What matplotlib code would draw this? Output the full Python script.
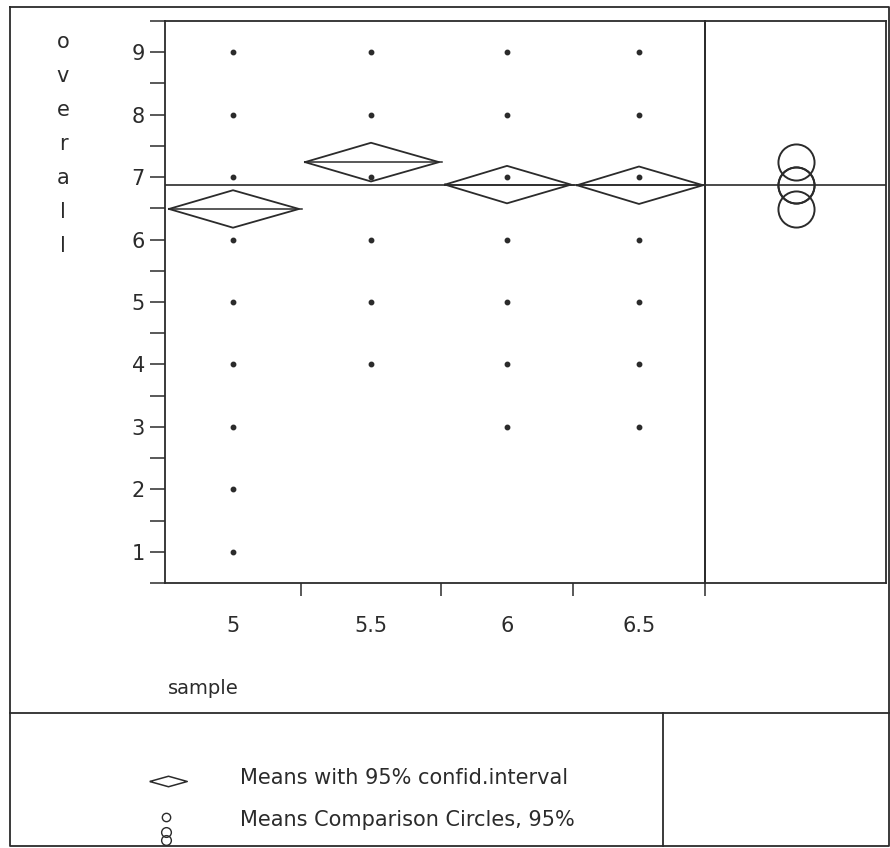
import matplotlib
matplotlib.use('Agg')

import matplotlib.pyplot as plt
import numpy as np

# data
groups = ["5", "5.5", "6", "6.5"]
group_w = [136, 140, 132, 132]          # relative group widths (sample sizes)
pts_5 = [1, 2, 3, 4, 5, 6, 7, 8, 9]
pts_55 = [4, 5, 6, 7, 8, 9]
pts_6 = [3, 4, 5, 6, 7, 8, 9]
pts_65 = [3, 4, 5, 6, 7, 8, 9]
means = [6.49, 7.24, 6.88, 6.87]
ci_half = [0.30, 0.31, 0.30, 0.30]
grand_mean = 6.87
y_label = "overall"
x_label = "sample"
legend_items = ["Means with 95% confid.interval", "Means Comparison Circles, 95%"]

ink = '#2b2b2b'
W, H = 890, 848
fig = plt.figure(figsize=(W / 100, H / 100), dpi=100)

def box(l, t, r, b):
    return [l / W, 1 - b / H, (r - l) / W, (b - t) / H]

# overlay in pixel units for the frame lines of the report
frame = fig.add_axes([0, 0, 1, 1], zorder=-1)
frame.set_xlim(0, W)
frame.set_ylim(H, 0)
frame.axis('off')
lw = 1.3
frame.plot([10, 889, 889, 10, 10], [7, 7, 846, 846, 7], color=ink, lw=lw)
frame.plot([10, 889], [713, 713], color=ink, lw=lw)
frame.plot([663, 663], [713, 846], color=ink, lw=lw)

# main panel
ax = fig.add_axes(box(165, 21, 705, 583))
ax.set_facecolor('none')
edges = np.concatenate([[0], np.cumsum(group_w)])
centers = (edges[:-1] + edges[1:]) / 2
ax.set_xlim(0, edges[-1])
ax.set_ylim(0.5, 9.5)

all_pts = [pts_5, pts_55, pts_6, pts_65]
for i, p in enumerate(all_pts):
    ax.plot([centers[i]] * len(p), p, 'o', color=ink, markersize=3.2, zorder=2)

ax.axhline(grand_mean, color=ink, lw=1.2, zorder=3)
for i in range(len(groups)):
    x0 = edges[i] + 4
    x1 = edges[i + 1] - 2
    xc = centers[i]
    m = means[i]
    h = ci_half[i]
    ax.plot([x0, xc, x1, xc, x0], [m, m + h, m, m - h, m], color=ink, lw=1.3, zorder=4)
    ax.plot([x0, x1 + 3], [m, m], color=ink, lw=1.1, zorder=4)

for s in ax.spines.values():
    s.set_linewidth(lw)
    s.set_color(ink)

ax.set_yticks(range(1, 10))
ax.set_yticks(np.arange(0.5, 10, 1.0), minor=True)
ax.tick_params(axis='y', which='both', direction='out', length=10.5, width=1.1,
               color=ink, labelsize=15, labelcolor=ink, pad=4)
ax.set_xticks(edges[1:])
ax.set_xticklabels([])
ax.set_xticks(centers, minor=True)
ax.set_xticklabels(groups, minor=True)
ax.tick_params(axis='x', which='major', direction='out', length=9, width=1.1, color=ink)
ax.tick_params(axis='x', which='minor', length=0, pad=24, labelsize=15, labelcolor=ink)

# comparison circles panel
axr = fig.add_axes(box(705, 21, 886, 583))
axr.set_facecolor('none')
axr.set_xlim(0, 1)
axr.set_ylim(ax.get_ylim())
axr.axhline(grand_mean, color=ink, lw=1.2)
axr.plot([0.5] * len(means), means, 'o', mfc='none', mec=ink, mew=1.4, markersize=26)
axr.set_xticks([])
axr.set_yticks([])
for s in axr.spines.values():
    s.set_linewidth(lw)
    s.set_color(ink)

# axis titles
for k, ch in enumerate(y_label):
    fig.text(63 / W, 1 - (42 + 34 * k) / H, ch, ha='center', va='center',
             fontsize=15, color=ink)
fig.text(168 / W, 1 - 688 / H, x_label, ha='left', va='center', fontsize=14, color=ink)

# legend
frame.plot([168], [781], marker=[(-1, 0), (0, 0.28), (1, 0), (0, -0.28), (-1, 0)],
           markersize=27, mfc='none', mec=ink, mew=1.1)
frame.plot([166], [817], 'o', mfc='none', mec=ink, mew=1.0, markersize=6)
frame.plot([166, 166], [832, 840], 'o', mfc='none', mec=ink, mew=1.0, markersize=7)
frame.text(240, 778, legend_items[0], ha='left', va='center', fontsize=15, color=ink)
frame.text(240, 820, legend_items[1], ha='left', va='center', fontsize=15, color=ink)

plt.savefig("out.png", dpi=100)
